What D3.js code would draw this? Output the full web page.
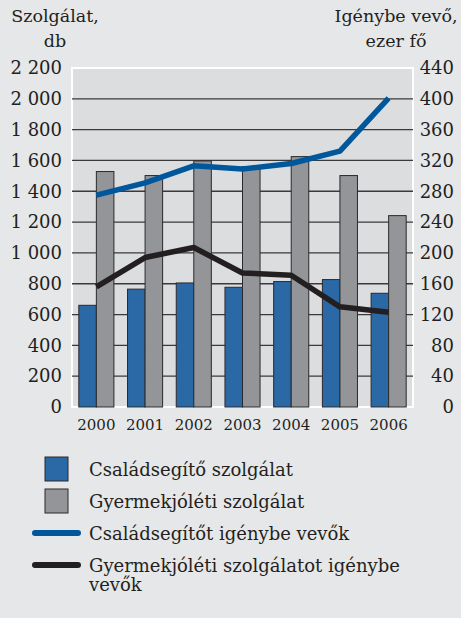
<!DOCTYPE html>
<html>
<head>
<meta charset="utf-8">
<script src="https://cdn.jsdelivr.net/npm/d3@7"></script>
<style>
  html, body { margin: 0; padding: 0; background: #e6e7e9; }
  svg { display: block; font-family: "DejaVu Serif", serif; fill: #231f20; }
</style>
</head>
<body>
<div id="chart"></div>
<script>
// data
const years = ['2000', '2001', '2002', '2003', '2004', '2005', '2006'];
const csaladsegitoSzolg = [660, 765, 805, 777, 814, 827, 738];
const gyermekjoletiSzolg = [1528, 1502, 1597, 1560, 1625, 1502, 1242];
const csaladsegitoVevok = [275, 291, 313, 309, 316, 332, 401];
const gyermekjoletiVevok = [156, 194, 207, 174, 171, 130, 123];
const leftTicks = [0, 200, 400, 600, 800, 1000, 1200, 1400, 1600, 1800, 2000, 2200];
const rightTicks = [0, 40, 80, 120, 160, 200, 240, 280, 320, 360, 400, 440];

const W = 461, H = 618;
const margin = { top: 68, right: 48, bottom: 211, left: 72 };
const width = W - margin.left - margin.right;
const height = H - margin.top - margin.bottom;

const colors = {
  blueBar: '#2b69a6',
  greyBar: '#939598',
  blueLine: '#00579b',
  blackLine: '#231f20'
};

const fmt = d => d3.format(',')(d).replace(/,/g, ' ');

const svg = d3.select('#chart').append('svg')
  .attr('width', W)
  .attr('height', H);

const g = svg.append('g')
  .attr('transform', 'translate(' + margin.left + ',' + margin.top + ')');

const x = d3.scaleBand().domain(years).range([0, width]).paddingInner(0.28).paddingOuter(0.14);
const xIn = d3.scaleBand().domain(['cs', 'gy']).range([0, x.bandwidth()]);
const yL = d3.scaleLinear().domain([0, 2200]).range([height, 0]);
const yR = d3.scaleLinear().domain([0, 440]).range([height, 0]);

// plot background
g.append('rect')
  .attr('x', 0).attr('y', 0)
  .attr('width', width).attr('height', height)
  .attr('fill', '#dcdddf')
  .attr('stroke', '#ffffff')
  .attr('stroke-width', 2);

// gridlines
g.append('g').attr('class', 'grid')
  .selectAll('line')
  .data(leftTicks.filter(d => d > 0 && d < 2200))
  .enter().append('line')
  .attr('x1', 0).attr('x2', width)
  .attr('y1', d => yL(d)).attr('y2', d => yL(d))
  .attr('stroke', '#3a3a3c')
  .attr('stroke-width', 1.3);

// bars
const groups = g.selectAll('.year')
  .data(years.map((y, i) => ({ year: y, cs: csaladsegitoSzolg[i], gy: gyermekjoletiSzolg[i] })))
  .enter().append('g')
  .attr('class', 'year')
  .attr('transform', d => 'translate(' + x(d.year) + ',0)');

groups.selectAll('rect')
  .data(d => [{ key: 'cs', v: d.cs }, { key: 'gy', v: d.gy }])
  .enter().append('rect')
  .attr('x', d => xIn(d.key))
  .attr('y', d => yL(d.v))
  .attr('width', xIn.bandwidth())
  .attr('height', d => height - yL(d.v))
  .attr('fill', d => d.key === 'cs' ? colors.blueBar : colors.greyBar)
  .attr('stroke', '#2a2a2c')
  .attr('stroke-width', 1);

// lines on right axis
const line = d3.line()
  .x((d, i) => x(years[i]) + x.bandwidth() / 2)
  .y(d => yR(d));

g.append('path')
  .datum(gyermekjoletiVevok)
  .attr('d', line)
  .attr('fill', 'none')
  .attr('stroke', colors.blackLine)
  .attr('stroke-width', 5.5)
  .attr('stroke-linejoin', 'round');

g.append('path')
  .datum(csaladsegitoVevok)
  .attr('d', line)
  .attr('fill', 'none')
  .attr('stroke', colors.blueLine)
  .attr('stroke-width', 5.5)
  .attr('stroke-linejoin', 'round');

// left axis
const axisL = d3.axisLeft(yL).tickValues(leftTicks).tickFormat(fmt).tickSize(0).tickPadding(10);
g.append('g').call(axisL)
  .call(a => a.select('.domain').remove())
  .selectAll('text')
  .attr('font-family', '"DejaVu Serif", serif')
  .attr('font-size', 18)
  .attr('fill', '#231f20');

// right axis
const axisR = d3.axisRight(yR).tickValues(rightTicks).tickSize(0).tickPadding(0);
g.append('g')
  .attr('transform', 'translate(' + (width + 41) + ',0)')
  .call(axisR)
  .call(a => a.select('.domain').remove())
  .selectAll('text')
  .attr('text-anchor', 'end')
  .attr('font-family', '"DejaVu Serif", serif')
  .attr('font-size', 18)
  .attr('fill', '#231f20');

// x axis
const axisX = d3.axisBottom(x).tickSize(0).tickPadding(12);
g.append('g')
  .attr('transform', 'translate(0,' + height + ')')
  .call(axisX)
  .call(a => a.select('.domain').remove())
  .selectAll('text')
  .attr('font-family', '"DejaVu Serif", serif')
  .attr('font-size', 15)
  .attr('fill', '#231f20');

// axis titles
const titleSize = 17.5;
svg.append('text').attr('x', 55).attr('y', 22).attr('text-anchor', 'middle')
  .attr('font-size', titleSize).text('Szolgálat,');
svg.append('text').attr('x', 55).attr('y', 47).attr('text-anchor', 'middle')
  .attr('font-size', titleSize).text('db');
svg.append('text').attr('x', 396).attr('y', 22).attr('text-anchor', 'middle')
  .attr('font-size', titleSize).text('Igénybe vevő,');
svg.append('text').attr('x', 396).attr('y', 47).attr('text-anchor', 'middle')
  .attr('font-size', titleSize).text('ezer fő');

// legend
const legendItems = [
  { type: 'rect', color: colors.blueBar, lines: ['Családsegítő szolgálat'] },
  { type: 'rect', color: colors.greyBar, lines: ['Gyermekjóléti szolgálat'] },
  { type: 'line', color: colors.blueLine, lines: ['Családsegítőt igénybe vevők'] },
  { type: 'line', color: colors.blackLine, lines: ['Gyermekjóléti szolgálatot igénybe', 'vevők'] }
];

const legend = svg.append('g').attr('class', 'legend');
legendItems.forEach((item, i) => {
  const cy = 469 + i * 32;
  const it = legend.append('g').attr('transform', 'translate(0,' + cy + ')');
  if (item.type === 'rect') {
    it.append('rect')
      .attr('x', 45).attr('y', -12)
      .attr('width', 23).attr('height', 24)
      .attr('fill', item.color)
      .attr('stroke', '#2a2a2c').attr('stroke-width', 1);
  } else {
    it.append('line')
      .attr('x1', 35).attr('x2', 78)
      .attr('y1', 0).attr('y2', 0)
      .attr('stroke', item.color)
      .attr('stroke-width', 6)
      .attr('stroke-linecap', 'round');
  }
  const t = it.append('text').attr('x', 89).attr('y', 6.5).attr('font-size', 18);
  item.lines.forEach((l, j) => {
    t.append('tspan').attr('x', 89).attr('dy', j === 0 ? 0 : 19.5).text(l);
  });
});
</script>
</body>
</html>
